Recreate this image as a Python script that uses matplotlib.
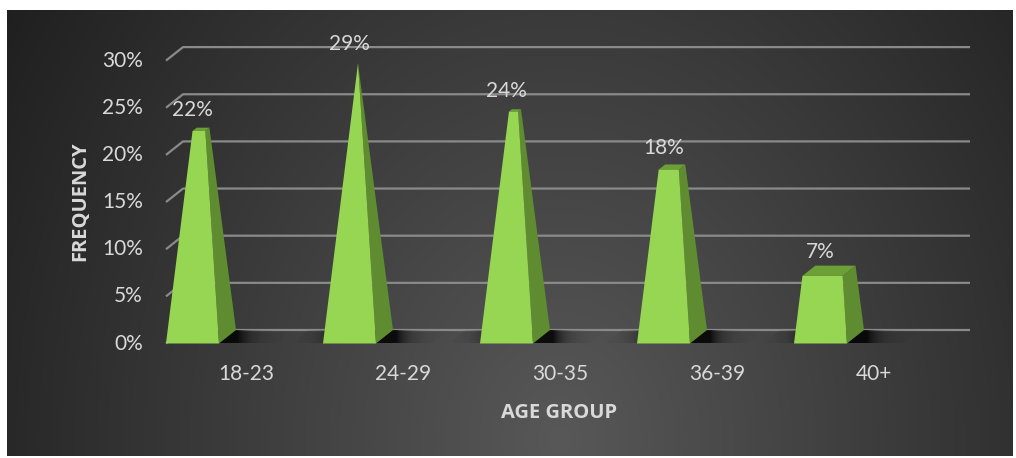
import numpy as np
import matplotlib.pyplot as plt
from matplotlib.patches import Polygon

# data
groups = ["18-23", "24-29", "30-35", "36-39", "40+"]
freq = [22, 29, 24, 18, 7]
yticks = [0, 5, 10, 15, 20, 25, 30]

W, H = 1016, 458
plt.rcParams['font.family'] = ['Lato', 'DejaVu Sans']
txt = '#D9D9D9'
fig = plt.figure(figsize=(W / 100, H / 100), dpi=100, facecolor='white')

# fundo escuro com gradiente radial
bg = fig.add_axes([0, 0, 1, 1])
bg.axis('off')
yy, xx = np.mgrid[10:456, 7:1013]
t = np.clip(np.hypot((xx - 560) / 650.0, (yy - 440) / 800.0), 0, 1)
g = 0.345 - 0.22 * t
bg.imshow(np.dstack([g, g, g]), extent=(7, 1013, 456, 10), aspect='auto',
          interpolation='bilinear')
bg.set_xlim(0, W)
bg.set_ylim(H, 0)

# eixo principal: x em categorias, y em %
ax = fig.add_axes([0, 0, 1, 1])
ax.patch.set_alpha(0)
ax.axis('off')
px0, py0, sx, sy = 192.5, 343.5, 157.0, 9.43
xlim = (-px0 / sx, (W - px0) / sx)
ylim = ((py0 - H) / sy, py0 / sy)

DX, DY = 17 / sx, 13.5 / sy   # profundidade (projeção oblíqua)
bw = 53 / sx                  # largura da base
hmax = max(freq)
x_wall = -bw / 2
x_end = (970 - px0) / sx - DX


def P(x, y, z):
    return (x + z * DX, y + z * DY)


# grade na parede de fundo
for v in yticks:
    ax.plot([x_wall, x_wall + DX, x_end + DX], [v, v + DY, v + DY],
            color='#8a8a8a', lw=1.6, zorder=1, solid_capstyle='butt')
    ax.text(-0.315, v, f"{v}%", ha='right', va='center', color=txt,
            fontsize=15)

# pirâmides truncadas ao máximo
for i, h in enumerate(freq):
    c = i
    s = 1 - h / hmax
    L, R = c - bw / 2, c + bw / 2
    l2, r2 = c - s * bw / 2, c + s * bw / 2

    # sombra no piso
    xl, xr = max(L - 0.2, x_wall), R + DX + 0.25
    xs = np.linspace(xl, xr, 200)
    d = np.maximum(np.maximum(L + 0.5 * DX - xs, xs - (R + 0.5 * DX)), 0)
    a = 0.85 * np.exp(-d / 0.065)
    rgba = np.zeros((2, 200, 4))
    rgba[..., 3] = a
    floor = Polygon([P(xl, 0, 0), P(xr, 0, 0), P(xr, 0, 1), P(xl, 0, 1)],
                    closed=True, facecolor='none', edgecolor='none')
    ax.add_patch(floor)
    im = ax.imshow(rgba, extent=(xl, xr + DX, 0, DY), aspect='auto',
                   interpolation='bilinear', zorder=2)
    im.set_clip_path(floor)

    side = [P(R, 0, 0), P(R, 0, 1), P(r2, h, (1 + s) / 2), P(r2, h, (1 - s) / 2)]
    top = [P(l2, h, (1 - s) / 2), P(r2, h, (1 - s) / 2),
           P(r2, h, (1 + s) / 2), P(l2, h, (1 + s) / 2)]
    front = [P(L, 0, 0), P(R, 0, 0), P(r2, h, (1 - s) / 2), P(l2, h, (1 - s) / 2)]
    ax.add_patch(Polygon(side, closed=True, facecolor='#5F8C31', edgecolor='none', zorder=3))
    ax.add_patch(Polygon(top, closed=True, facecolor='#6CA037', edgecolor='none', zorder=3))
    ax.add_patch(Polygon(front, closed=True, facecolor='#96D652', edgecolor='none', zorder=4))

    ax.annotate(f"{h}%", xy=(c, h + 0.5 * DY), xytext=(0, 13.7),
                textcoords='offset points', ha='center', va='center',
                color=txt, fontsize=15, zorder=5)
    ax.text(c + 0.341, (py0 - 374) / sy, groups[i], ha='center', va='center',
            color=txt, fontsize=15)

ax.set_xlim(*xlim)
ax.set_ylim(*ylim)

fig.text(559 / W, 1 - 413 / H, "AGE GROUP", ha='center', va='center',
         color=txt, fontsize=14.5, fontweight='bold', family=['Open Sans', 'DejaVu Sans'])
fig.text(80 / W, 1 - 201 / H, "FREQUENCY", ha='center', va='center',
         color=txt, fontsize=14.5, fontweight='bold', rotation=90,
         family=['Open Sans', 'DejaVu Sans'])

fig.savefig('out.png', dpi=100, facecolor='white')
